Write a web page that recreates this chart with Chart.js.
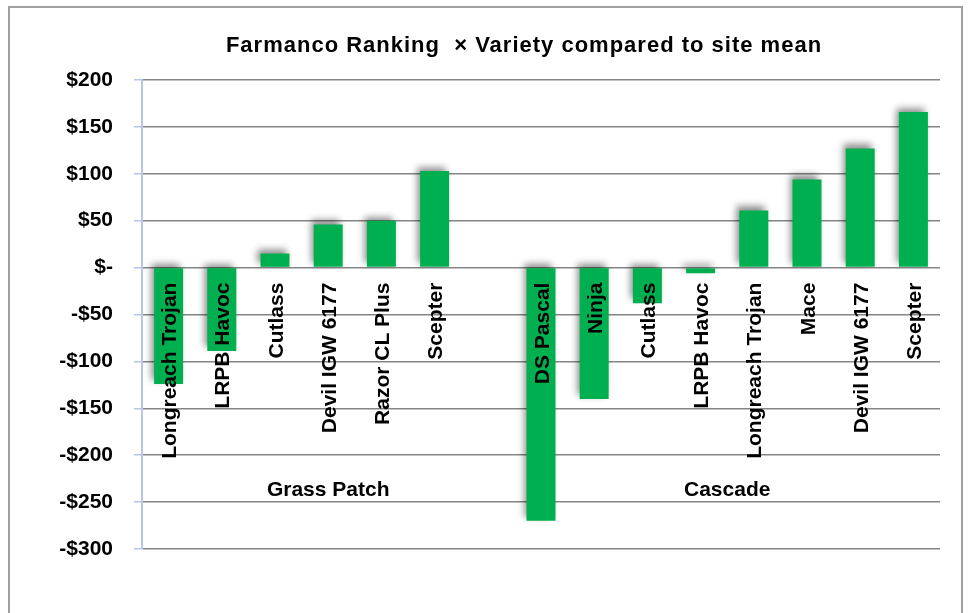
<!DOCTYPE html>
<html>
<head>
<meta charset="utf-8">
<script src="https://cdn.jsdelivr.net/npm/chart.js@4/dist/chart.umd.min.js"></script>
<style>
  html, body { margin: 0; padding: 0; background: #ffffff; }
  #wrap { width: 972px; height: 613px; }
</style>
</head>
<body>
<div id="wrap"><canvas id="c" width="972" height="613"></canvas></div>
<script>
// ---- Data ----
const chartTitle = 'Farmanco Ranking  \u00d7 Variety compared to site mean';
const groupNames = ['Grass Patch', 'Cascade'];
const grassPatchVarieties = ['Longreach Trojan', 'LRPB Havoc', 'Cutlass', 'Devil IGW 6177', 'Razor CL Plus', 'Scepter'];
const grassPatchValues = [-124, -89, 15, 46, 50, 103];
const cascadeVarieties = ['DS Pascal', 'Ninja', 'Cutlass', 'LRPB Havoc', 'Longreach Trojan', 'Mace', 'Devil IGW 6177', 'Scepter'];
const cascadeValues = [-270, -140, -38, -6, 61, 94, 127, 166];
const yTicks = [200, 150, 100, 50, 0, -50, -100, -150, -200, -250, -300];

// Build category list (one blank slot closes the Grass Patch group)
const categories = [...grassPatchVarieties, '', ...cascadeVarieties];
const values = [...grassPatchValues, null, ...cascadeValues];
const groupRanges = [
  [0, grassPatchVarieties.length],
  [grassPatchVarieties.length + 1, categories.length - 1]
];

function fmtMoney(v) {
  if (v === 0) return '$-';
  return (v < 0 ? '-$' : '$') + Math.abs(v);
}

const FONT = '"Liberation Sans", Arial, sans-serif';

const framePlugin = {
  id: 'frame',
  beforeDraw(chart) {
    const ctx = chart.ctx;
    ctx.save();
    ctx.fillStyle = '#ffffff';
    ctx.fillRect(0, 0, chart.width, chart.height);
    ctx.strokeStyle = '#a0a0a0';
    ctx.lineWidth = 2;
    ctx.beginPath();
    ctx.moveTo(9, chart.height + 5);
    ctx.lineTo(9, 7);
    ctx.lineTo(962, 7);
    ctx.lineTo(962, chart.height + 5);
    ctx.stroke();
    ctx.restore();
  }
};

const shadowPlugin = {
  id: 'barShadow',
  beforeDatasetsDraw(chart) {
    const ctx = chart.ctx;
    ctx.save();
    ctx.shadowColor = 'rgba(0,0,0,0.45)';
    ctx.shadowBlur = 7;
    ctx.shadowOffsetX = -3;
    ctx.shadowOffsetY = -4;
  },
  afterDatasetsDraw(chart) {
    chart.ctx.restore();
  }
};

const textPlugin = {
  id: 'texts',
  afterDraw(chart) {
    const ctx = chart.ctx;
    const xs = chart.scales.x;
    const ys = chart.scales.y;
    ctx.save();
    // Title
    ctx.fillStyle = '#000000';
    ctx.font = 'bold 22px ' + FONT;
    ctx.textAlign = 'center';
    ctx.textBaseline = 'alphabetic';
    try { ctx.letterSpacing = '1px'; } catch (e) {}
    ctx.fillText(chartTitle, 524, 52);
    try { ctx.letterSpacing = '0px'; } catch (e) {}

    // Category labels (rotated, hanging below zero line)
    const y0 = ys.getPixelForValue(0) + 15;
    ctx.font = 'bold 21px ' + FONT;
    categories.forEach((lab, i) => {
      if (!lab) return;
      const cx = xs.getPixelForValue(i);
      ctx.save();
      ctx.translate(cx, y0);
      ctx.rotate(-Math.PI / 2);
      ctx.textAlign = 'right';
      ctx.textBaseline = 'alphabetic';
      ctx.fillText(lab, 0, 7.5);
      ctx.restore();
    });

    // Group labels
    ctx.textAlign = 'center';
    ctx.textBaseline = 'alphabetic';
    groupNames.forEach((g, k) => {
      const [a, b] = groupRanges[k];
      const cx = (xs.getPixelForValue(a) + xs.getPixelForValue(b)) / 2;
      ctx.fillText(g, cx, 496);
    });
    ctx.restore();
  }
};

new Chart(document.getElementById('c'), {
  type: 'bar',
  data: {
    labels: categories,
    datasets: [{
      data: values,
      backgroundColor: '#00b050',
      borderWidth: 0,
      barPercentage: 0.545,
      categoryPercentage: 1.0
    }]
  },
  options: {
    responsive: false,
    animation: false,
    events: [],
    layout: { padding: { left: 0, right: 32, top: 80, bottom: 64 } },
    plugins: {
      legend: { display: false },
      title: { display: false },
      tooltip: { enabled: false }
    },
    scales: {
      x: {
        display: false,
        grid: { display: false }
      },
      y: {
        min: -300,
        max: 200,
        afterFit(scale) { scale.width = 142; },
        afterBuildTicks(scale) { scale.ticks = yTicks.map(v => ({ value: v })); },
        border: { display: true, color: '#b4c7e7', width: 2 },
        grid: {
          color: '#858585',
          lineWidth: 1.5,
          tickLength: 8,
          tickColor: '#b4c7e7',
          drawTicks: true
        },
        ticks: {
          padding: 21,
          color: '#000000',
          font: { family: FONT, size: 21, weight: 'bold' },
          callback: (v) => fmtMoney(v)
        }
      }
    }
  },
  plugins: [framePlugin, shadowPlugin, textPlugin]
});
</script>
</body>
</html>
